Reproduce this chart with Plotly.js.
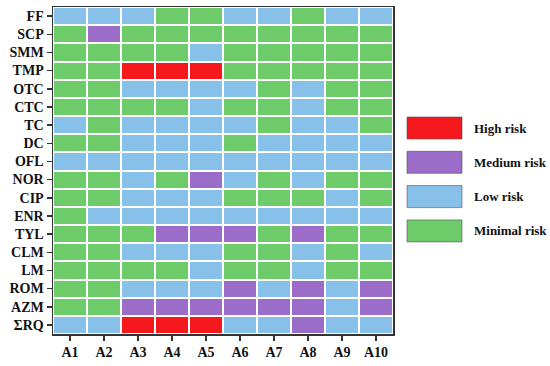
<!DOCTYPE html>
<html>
<head>
<meta charset="utf-8">
<script src="https://cdn.plot.ly/plotly-3.0.1.min.js"></script>
<style>html,body{margin:0;padding:0;background:#fff;}#chart{width:550px;height:366px;}</style>
</head>
<body>
<div id="chart"></div>
<script>
// Sites (columns)
var sites = ["A1","A2","A3","A4","A5","A6","A7","A8","A9","A10"];
// Antibiotics (rows, top to bottom)
var compounds = ["FF","SCP","SMM","TMP","OTC","CTC","TC","DC","OFL","NOR","CIP","ENR","TYL","CLM","LM","ROM","AZM","ΣRQ"];
// Risk level: 0 = Minimal, 1 = Low, 2 = Medium, 3 = High
var FF  = [1,1,1,0,0,1,1,0,1,1];
var SCP = [0,2,0,0,0,0,0,0,0,0];
var SMM = [0,0,0,0,1,0,0,0,0,0];
var TMP = [0,0,3,3,3,0,0,0,0,0];
var OTC = [0,0,1,1,1,1,0,1,0,0];
var CTC = [0,0,0,0,1,0,0,1,0,0];
var TC  = [1,0,1,1,1,1,0,1,1,0];
var DC  = [0,0,1,1,1,0,1,1,1,1];
var OFL = [1,1,1,1,1,1,1,1,1,1];
var NOR = [0,0,1,0,2,1,0,1,0,0];
var CIP = [0,0,1,1,1,0,0,0,1,0];
var ENR = [0,1,1,1,1,1,1,1,1,1];
var TYL = [0,0,0,2,2,2,0,2,0,0];
var CLM = [0,0,1,1,1,0,0,1,0,1];
var LM  = [0,0,0,0,1,0,0,1,0,0];
var ROM = [0,0,1,1,1,2,1,2,1,2];
var AZM = [0,0,2,2,2,2,2,2,1,2];
var SRQ = [1,1,3,3,3,1,1,2,1,1];

var riskLabels = ["High risk","Medium risk","Low risk","Minimal risk"];
var riskColors = ["#f5181d","#9b6cc8","#87c0e8","#6dcb6a"]; // high, medium, low, minimal

var z = [FF,SCP,SMM,TMP,OTC,CTC,TC,DC,OFL,NOR,CIP,ENR,TYL,CLM,LM,ROM,AZM,SRQ];

var cGreen = riskColors[3], cBlue = riskColors[2], cPurple = riskColors[1], cRed = riskColors[0];
var colorscale = [
  [0,cGreen],[0.25,cGreen],
  [0.25,cBlue],[0.5,cBlue],
  [0.5,cPurple],[0.75,cPurple],
  [0.75,cRed],[1,cRed]
];

var font = {family:"Liberation Serif, Times New Roman, serif", size:14, color:"#111", weight:"bold"};

var trace = {
  type:"heatmap",
  x:sites, y:compounds, z:z,
  zmin:-0.5, zmax:3.5,
  colorscale:colorscale,
  showscale:false,
  xgap:2, ygap:2,
  hoverinfo:"x+y+z"
};

// legend drawn as shapes/annotations in paper coords
var L = 53, R = 393, T = 7, B = 334;
function px2x(p){ return (p-L)/(R-L); }
function py2y(p){ return (B-p)/(B-T); }
var shapes = [], annotations = [];
for (var i=0;i<riskLabels.length;i++){
  var boxTop = 117 + i*34.3, boxBot = boxTop + 22;
  shapes.push({type:"rect", xref:"paper", yref:"paper",
    x0:px2x(407), x1:px2x(462), y0:py2y(boxBot), y1:py2y(boxTop),
    fillcolor:riskColors[i], line:{color:"rgba(70,70,90,0.55)", width:1}});
  annotations.push({xref:"paper", yref:"paper", x:px2x(472), y:py2y((boxTop+boxBot)/2),
    xanchor:"left", yanchor:"middle", showarrow:false, text:riskLabels[i],
    font:{family:font.family, size:13, color:"#111", weight:"bold"}});
}

var layout = {
  width:550, height:366,
  margin:{l:53, r:157, t:7, b:32},
  paper_bgcolor:"#fff", plot_bgcolor:"#fff",
  showlegend:false,
  xaxis:{type:"category", showline:true, mirror:true, linecolor:"#333", linewidth:1.5,
    ticks:"outside", ticklen:5, tickwidth:1.5, tickcolor:"#333", tickfont:font,
    showgrid:false, zeroline:false, fixedrange:true},
  yaxis:{type:"category", autorange:"reversed", showline:true, mirror:true, linecolor:"#333", linewidth:1.5,
    ticks:"outside", ticklen:5, tickwidth:1.5, tickcolor:"#333", tickfont:font,
    showgrid:false, zeroline:false, fixedrange:true},
  shapes:shapes,
  annotations:annotations
};

Plotly.newPlot("chart",[trace],layout,{displayModeBar:false, staticPlot:true});
</script>
</body>
</html>
